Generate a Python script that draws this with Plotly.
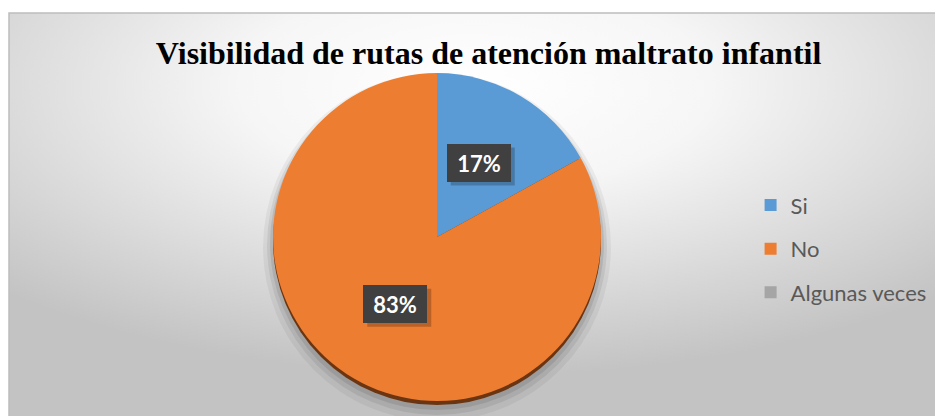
import math
import base64
import plotly.graph_objects as go

# ---- data ----
categories = ["Si", "No", "Algunas veces"]
values = [17, 83, 0]
colors = ["#5B9BD5", "#ED7D31", "#A5A5A5"]
title_text = "Visibilidad de rutas de atención maltrato infantil"

# ---- layout geometry (styles) ----
# page body adds ~8px offset, so the figure is sized to fit the window
W, H = 935, 408
ML, MT = 1, 5
PW, PH = W - ML, H - MT
pie_dom_x = [0.2827, 0.6338]
pie_dom_y = [0.037, 0.851]
LABEL_PAD = 5
LABEL_TXT_W, LABEL_TXT_H = 54, 28
LABEL_BOX_W, LABEL_BOX_H = LABEL_TXT_W + 2 * LABEL_PAD, LABEL_TXT_H + 2 * LABEL_PAD
LABEL_LIFT = 4  # px

# background radial gradient
svg = f'''<svg xmlns="http://www.w3.org/2000/svg" width="{PW}" height="{PH}" viewBox="0 0 {PW} {PH}" preserveAspectRatio="none">
<defs><radialGradient id="g" cx="50%" cy="18%" r="72%" fx="50%" fy="18%">
<stop offset="0" stop-color="#ffffff"/><stop offset="0.35" stop-color="#f6f6f6"/><stop offset="1" stop-color="#c3c3c3"/></radialGradient></defs>
<rect x="0" y="0" width="{PW}" height="{PH}" fill="url(#g)"/></svg>'''
bg_src = "data:image/svg+xml;base64," + base64.b64encode(svg.encode()).decode()

fig = go.Figure()

fig.add_trace(go.Pie(
    labels=categories, values=values, sort=False, direction="clockwise", rotation=0,
    marker=dict(colors=colors, line=dict(width=0)),
    textinfo="none", hoverinfo="label+percent", showlegend=False,
    domain=dict(x=pie_dom_x, y=pie_dom_y),
))

# legend entries
for c, col in zip(categories, colors):
    fig.add_trace(go.Scatter(
        x=[None], y=[None], mode="markers", name=c, legendgroup=c,
        marker=dict(symbol="square", size=12, color=col), showlegend=True,
    ))

# pie geometry in pixels for rim/shadow and labels
dom_w = (pie_dom_x[1] - pie_dom_x[0]) * PW
dom_h = (pie_dom_y[1] - pie_dom_y[0]) * PH
R = min(dom_w, dom_h) / 2
cxp = (pie_dom_x[0] + pie_dom_x[1]) / 2
cyp = (pie_dom_y[0] + pie_dom_y[1]) / 2
rx = R / PW
ry = R / PH

shapes = []
# soft shadow
for off, grow, op in [(10, 10, 0.05), (8, 6, 0.07), (6, 3, 0.09)]:
    shapes.append(dict(type="circle", xref="paper", yref="paper", layer="below",
                       x0=cxp - rx - grow / PW, x1=cxp + rx + grow / PW,
                       y0=cyp - ry - (grow + off) / PH, y1=cyp + ry + (grow - off) / PH,
                       fillcolor=f"rgba(0,0,0,{op})", line=dict(width=0)))
# 3D rim
shapes.append(dict(type="circle", xref="paper", yref="paper", layer="below",
                   x0=cxp - rx, x1=cxp + rx, y0=cyp - ry - 4 / PH, y1=cyp + ry - 4 / PH,
                   fillcolor="#6b3512", line=dict(width=0)))
# frame border
shapes.append(dict(type="rect", xref="paper", yref="paper", layer="above",
                   x0=0, x1=1.01, y0=-0.01, y1=1, line=dict(color="#bdbdbd", width=1.5),
                   fillcolor="rgba(0,0,0,0)"))

# data labels at half radius along each slice's mid angle
annotations = []
total = sum(values)
cum = 0
for v in values:
    if v > 0:
        mid = (cum + v / 2) / total * 2 * math.pi
        lx = cxp + 0.5 * R * math.sin(mid) / PW
        ly = cyp + (0.5 * R * math.cos(mid) + LABEL_LIFT) / PH
        # drop shadow behind label box
        hw, hh = LABEL_BOX_W / 2 / PW, LABEL_BOX_H / 2 / PH
        sx, sy = 4 / PW, 4 / PH
        shapes.append(dict(type="rect", xref="paper", yref="paper", layer="above",
                           x0=lx - hw + sx, x1=lx + hw + sx, y0=ly - hh - sy, y1=ly + hh - sy,
                           fillcolor="rgba(0,0,0,0.22)", line=dict(width=0)))
        annotations.append(dict(
            x=lx, y=ly, xref="paper", yref="paper", showarrow=False,
            xanchor="center", yanchor="middle", valign="middle", align="center",
            text=f"<b>{round(v / total * 100)}%</b>",
            font=dict(family="Lato, Open Sans, sans-serif", size=22, color="white"),
            bgcolor="#404040", borderpad=LABEL_PAD, borderwidth=0,
            width=LABEL_TXT_W, height=LABEL_TXT_H,
        ))
    cum += v

fig.update_layout(
    width=W, height=H,
    margin=dict(l=ML, r=0, t=MT, b=0),
    paper_bgcolor="white", plot_bgcolor="rgba(0,0,0,0)",
    title=dict(text=f"<b>{title_text}</b>", x=0.514, xanchor="center", y=0.89, yanchor="middle",
               font=dict(family="Liberation Serif, Times New Roman, serif", size=32, color="black")),
    xaxis=dict(visible=False), yaxis=dict(visible=False),
    legend=dict(x=0.794, y=0.415, xanchor="left", yanchor="middle", tracegroupgap=12,
                font=dict(family="Lato, sans-serif", size=22, color="#595959"),
                bgcolor="rgba(0,0,0,0)", itemsizing="constant"),
    images=[dict(source=bg_src, xref="paper", yref="paper", x=0, y=1, sizex=1, sizey=1,
                 sizing="stretch", layer="below", xanchor="left", yanchor="top")],
    shapes=shapes, annotations=annotations,
)

fig.write_html("out.html")
